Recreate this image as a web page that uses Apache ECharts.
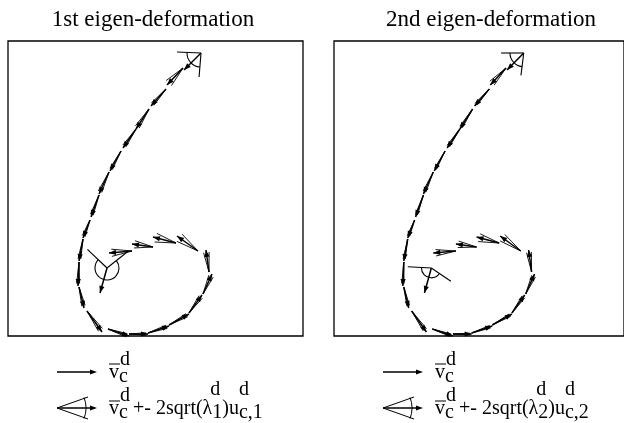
<!DOCTYPE html>
<html>
<head>
<meta charset="utf-8">
<script src="https://cdn.jsdelivr.net/npm/echarts@6/dist/echarts.min.js"></script>
<style>
  html, body { margin: 0; padding: 0; background: #fff; }
  #chart { width: 624px; height: 423px; }
</style>
</head>
<body>
<div id="chart"></div>
<script>
// mean deformation vectors v_c^d, tail position + vector (panel units, y up)
var tailX = [193, 175, 158, 141, 128, 113, 101, 91, 82, 75, 71, 71, 79, 100, 121, 140, 161, 181, 195, 201, 190, 168, 145, 124, 99];
var tailY = [283, 268, 247, 227, 207, 185, 164, 141, 116, 97, 74, 49, 25, 7, 2, 3, 11, 23, 42, 64, 85, 93, 89, 85, 68];
var vecX = [-17, -16, -15, -13, -13, -11, -10, -8, -7, -4, -1, 5, 15, 21, 19, 21, 20, 13, 9, -3, -21, -23, -21, -23, -7];
var vecY = [-17, -17, -17, -20, -19, -20, -22, -22, -18, -22, -24, -21, -21, -7, 0, 7, 11, 18, 20, 22, 15, 6, 3, -2, -25];

// small +- 2sqrt(lambda) spread (degrees) drawn on every vector
var spread1 = [0, 10, 5, 6, 5, 4, 5, 4, 5, 4, 4, 5, 6, 5, 4, 5, 5, 6, 7, 8, 11, 12, 11, 10, 0];
var spread2 = [0, 8, 4, 4, 4, 3, 4, 3, 4, 3, 3, 4, 5, 4, 3, 4, 4, 5, 6, 7, 10, 11, 10, 9, 0];

// big fans (first and last point): angle of the two limit vectors, length, arc radius
var fanPoint = [0, 24];
var fanFrom1 = [177.5, 136.5];
var fanTo1 = [265.4, 398.4];
var fanLen1 = [24, 27];
var fanRad1 = [14, 12];
var fanFrom2 = [180, 177];
var fanTo2 = [263, 326];
var fanLen2 = [23, 24];
var fanRad2 = [14, 10];

var titles = ['1st eigen-deformation', '2nd eigen-deformation'];

var chart = echarts.init(document.getElementById('chart'));

var arrowData = tailX.map(function (x, i) { return [x, tailY[i], vecX[i], vecY[i]]; });

function fanData(from, to, len, rad) {
  return fanPoint.map(function (p, i) { return [tailX[p], tailY[p], from[i], to[i], len[i], rad[i]]; });
}

function arrowRenderer(spreads) {
  return function (params, api) {
    var x = api.value(0), y = api.value(1), dx = api.value(2), dy = api.value(3);
    var p0 = api.coord([x, y]);
    var p1 = api.coord([x + dx, y + dy]);
    var ang = Math.atan2(p1[1] - p0[1], p1[0] - p0[0]);
    var L = Math.sqrt((p1[0] - p0[0]) * (p1[0] - p0[0]) + (p1[1] - p0[1]) * (p1[1] - p0[1]));
    var c = Math.cos(ang), s = Math.sin(ang);
    var hl = 7, hw = 2.6;
    var children = [];
    var sp = spreads[params.dataIndex] * Math.PI / 180;
    if (sp > 0) {
      [-sp, sp].forEach(function (a) {
        children.push({
          type: 'line',
          shape: { x1: p0[0], y1: p0[1], x2: p0[0] + 0.9 * L * Math.cos(ang + a), y2: p0[1] + 0.9 * L * Math.sin(ang + a) },
          style: { stroke: '#000', lineWidth: 0.9 }
        });
      });
    }
    children.push({
      type: 'line',
      shape: { x1: p0[0], y1: p0[1], x2: p1[0], y2: p1[1] },
      style: { stroke: '#000', lineWidth: 1.5 }
    });
    children.push({
      type: 'polygon',
      shape: { points: [
        [p1[0], p1[1]],
        [p1[0] - hl * c - hw * s, p1[1] - hl * s + hw * c],
        [p1[0] - hl * c + hw * s, p1[1] - hl * s - hw * c]
      ] },
      style: { fill: '#000' }
    });
    return { type: 'group', children: children };
  };
}

function fanRenderer(params, api) {
  var p0 = api.coord([api.value(0), api.value(1)]);
  var a1 = api.value(2) * Math.PI / 180, a2 = api.value(3) * Math.PI / 180;
  var len = api.size([api.value(4), 0])[0];
  var r = api.size([api.value(5), 0])[0];
  return {
    type: 'group',
    children: [
      { type: 'line', shape: { x1: p0[0], y1: p0[1], x2: p0[0] + len * Math.cos(a1), y2: p0[1] - len * Math.sin(a1) }, style: { stroke: '#000', lineWidth: 1.1 } },
      { type: 'line', shape: { x1: p0[0], y1: p0[1], x2: p0[0] + len * Math.cos(a2), y2: p0[1] - len * Math.sin(a2) }, style: { stroke: '#000', lineWidth: 1.1 } },
      { type: 'arc', shape: { cx: p0[0], cy: p0[1], r: r, startAngle: -a1, endAngle: -a2, clockwise: false }, style: { stroke: '#000', fill: null, lineWidth: 1.1 } }
    ]
  };
}

var serif = 'Liberation Serif';
var fontPx = 20;
var measureCtx = document.createElement('canvas').getContext('2d');
measureCtx.font = fontPx + 'px "' + serif + '"';
function textW(s) { return measureCtx.measureText(s).width; }

// legend glyphs and formula text under each panel
function legendGraphics(ox, k) {
  var g = [];
  var y1 = 372, y2 = 408;
  g.push({ type: 'line', shape: { x1: ox + 57, y1: y1, x2: ox + 91, y2: y1 }, style: { stroke: '#000', lineWidth: 1.4 } });
  g.push({ type: 'polygon', shape: { points: [[ox + 97, y1], [ox + 90, y1 - 2.6], [ox + 90, y1 + 2.6]] }, style: { fill: '#000' } });
  g.push({ type: 'line', shape: { x1: ox + 57, y1: y2, x2: ox + 91, y2: y2 }, style: { stroke: '#000', lineWidth: 1.4 } });
  g.push({ type: 'polygon', shape: { points: [[ox + 97, y2], [ox + 90, y2 - 2.6], [ox + 90, y2 + 2.6]] }, style: { fill: '#000' } });
  g.push({ type: 'line', shape: { x1: ox + 57, y1: y2, x2: ox + 88, y2: y2 - 11 }, style: { stroke: '#000', lineWidth: 1 } });
  g.push({ type: 'line', shape: { x1: ox + 57, y1: y2, x2: ox + 88, y2: y2 + 11 }, style: { stroke: '#000', lineWidth: 1 } });
  g.push({ type: 'arc', shape: { cx: ox + 57, cy: y2, r: 29, startAngle: -0.37, endAngle: 0.37 }, style: { stroke: '#000', fill: null, lineWidth: 1 } });

  function txt(x, y, s) {
    g.push({ type: 'text', x: ox + x, y: y, style: { text: s, fill: '#000', font: fontPx + 'px "' + serif + '"', textVerticalAlign: 'middle' } });
  }
  [[364, 360, 373, 377], [401, 396, 409, 413]].forEach(function (r) {
    g.push({ type: 'line', shape: { x1: ox + 109, y1: r[0], x2: ox + 120, y2: r[0] }, style: { stroke: '#000', lineWidth: 1 } });
    txt(120, r[1], 'd');
    txt(109, r[2], 'v');
    txt(109 + textW('v'), r[3], 'c');
  });
  // + - 2sqrt(lambda_k) u_{c,k}, pieces laid out one after another
  var x = 133;
  txt(x, 409, '+- 2sqrt(\u03bb');
  x += textW('+- 2sqrt(\u03bb');
  txt(x - 2, 390, 'd');
  txt(x, 413, String(k));
  x += textW(String(k));
  txt(x, 409, ')u');
  x += textW(')u');
  txt(x, 413, 'c,' + k);
  txt(x, 390, 'd');
  return g;
}

var option = {
  animation: false,
  backgroundColor: '#fff',
  title: [
    { text: titles[0], left: 148, top: 3, textAlign: 'center', textStyle: { fontFamily: serif, fontWeight: 'normal', fontSize: 23, color: '#000' } },
    { text: titles[1], left: 486, top: 3, textAlign: 'center', textStyle: { fontFamily: serif, fontWeight: 'normal', fontSize: 23, color: '#000' } }
  ],
  grid: [
    { left: 8, top: 41, width: 295, height: 295, show: true, borderColor: '#000', borderWidth: 1.3, backgroundColor: 'transparent' },
    { left: 334, top: 41, width: 295, height: 295, show: true, borderColor: '#000', borderWidth: 1.3, backgroundColor: 'transparent' }
  ],
  xAxis: [
    { type: 'value', gridIndex: 0, min: 0, max: 295, show: false },
    { type: 'value', gridIndex: 1, min: 0, max: 295, show: false }
  ],
  yAxis: [
    { type: 'value', gridIndex: 0, min: 0, max: 295, show: false },
    { type: 'value', gridIndex: 1, min: 0, max: 295, show: false }
  ],
  series: [
    { type: 'custom', xAxisIndex: 0, yAxisIndex: 0, renderItem: arrowRenderer(spread1), data: arrowData, clip: false, silent: true },
    { type: 'custom', xAxisIndex: 0, yAxisIndex: 0, renderItem: fanRenderer, data: fanData(fanFrom1, fanTo1, fanLen1, fanRad1), clip: false, silent: true },
    { type: 'custom', xAxisIndex: 1, yAxisIndex: 1, renderItem: arrowRenderer(spread2), data: arrowData, clip: false, silent: true },
    { type: 'custom', xAxisIndex: 1, yAxisIndex: 1, renderItem: fanRenderer, data: fanData(fanFrom2, fanTo2, fanLen2, fanRad2), clip: false, silent: true }
  ],
  graphic: legendGraphics(0, 1).concat(legendGraphics(326, 2))
};

chart.setOption(option);
</script>
</body>
</html>
